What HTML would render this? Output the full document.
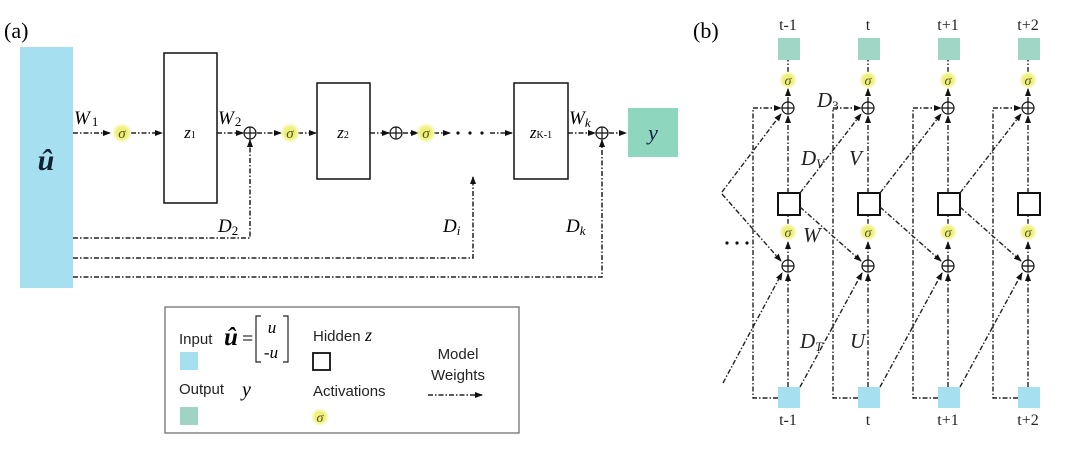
<!DOCTYPE html>
<html><head><meta charset="utf-8"><style>
html,body{margin:0;padding:0;background:#fff;}
svg{display:block;}
.s{font-family:"Liberation Serif",serif;}
.i{font-family:"Liberation Serif",serif;font-style:italic;}
.a{font-family:"Liberation Sans",sans-serif;}
</style></head><body>
<svg width="1080" height="450" viewBox="0 0 1080 450" xmlns="http://www.w3.org/2000/svg">
<defs>
<marker id="ar" markerWidth="8" markerHeight="8" refX="7" refY="4" orient="auto" markerUnits="userSpaceOnUse">
<path d="M0,1 L8,4 L0,7 Z" fill="#111"/></marker>
<radialGradient id="gl"><stop offset="0.6" stop-color="#eef07a"/><stop offset="1" stop-color="#f5f6b8" stop-opacity="0.4"/></radialGradient>
</defs>
<g fill="none" stroke="#222" stroke-width="1.5" stroke-dasharray="5 2 1.5 2">
<path d="M73,133 H110" marker-end="url(#ar)"/>
<path d="M131,133 H162" marker-end="url(#ar)"/>
<path d="M217,133 H243" marker-end="url(#ar)"/>
<path d="M257,133 H281" marker-end="url(#ar)"/>
<path d="M298,133 H316" marker-end="url(#ar)"/>
<path d="M370,133 H389" marker-end="url(#ar)"/>
<path d="M403,133 H418" marker-end="url(#ar)"/>
<path d="M434,133 H450" marker-end="url(#ar)"/>
<path d="M490,133 H512" marker-end="url(#ar)"/>
<path d="M568,133 H595" marker-end="url(#ar)"/>
<path d="M609,133 H626" marker-end="url(#ar)"/>
<path d="M73,238 H250 V140" marker-end="url(#ar)"/>
<path d="M73,258 H473 V177" marker-end="url(#ar)"/>
<path d="M73,277 H602 V140" marker-end="url(#ar)"/>
</g>
<g fill="#111"><circle cx="458" cy="133" r="1.6"/><circle cx="470" cy="133" r="1.6"/><circle cx="482" cy="133" r="1.6"/></g>
<rect x="20" y="47" width="53" height="241" fill="#a6dff0"/>
<text x="46" y="170" class="i" font-size="30" font-weight="bold" text-anchor="middle" fill="#123">û</text>
<rect x="164" y="53" width="53" height="150" fill="#fff" stroke="#111" stroke-width="1.5"/>
<rect x="317" y="83" width="53" height="96" fill="#fff" stroke="#111" stroke-width="1.5"/>
<rect x="514" y="83" width="54" height="96" fill="#fff" stroke="#111" stroke-width="1.5"/>
<rect x="628" y="108" width="50" height="49" fill="#8fd6bf"/>
<text x="653" y="140" class="i" font-size="22" text-anchor="middle" fill="#124">y</text>
<text x="190" y="138" class="i" font-size="17" text-anchor="middle">z<tspan font-size="10" font-style="normal">1</tspan></text>
<text x="343" y="138" class="i" font-size="17" text-anchor="middle">z<tspan font-size="10" font-style="normal">2</tspan></text>
<text x="541" y="138" class="i" font-size="17" text-anchor="middle">z<tspan font-size="10" font-style="normal">K-1</tspan></text>
<g class="i" font-size="19">
<text x="74" y="124">W<tspan font-size="13" font-style="normal" dx="2" dy="2">1</tspan></text>
<text x="218" y="124">W<tspan font-size="13" font-style="normal" dx="1" dy="2">2</tspan></text>
<text x="569" y="124">W<tspan font-size="13" dy="3">k</tspan></text>
<text x="218" y="232">D<tspan font-size="13" font-style="normal" dy="3">2</tspan></text>
<text x="443" y="232">D<tspan font-size="13" dy="3">i</tspan></text>
<text x="566" y="232">D<tspan font-size="13" dy="3">k</tspan></text>
</g>
<g fill="#fff" stroke="#111" stroke-width="1.2">
<circle cx="250" cy="133" r="6"/><path d="M244,133H256M250,127V139"/>
<circle cx="396" cy="133" r="6"/><path d="M390,133H402M396,127V139"/>
<circle cx="602" cy="133" r="6"/><path d="M596,133H608M602,127V139"/>
</g>
<g class="i" font-size="15" fill="#552" text-anchor="middle">
<circle cx="122" cy="133" r="9.5" fill="url(#gl)"/><text x="122" y="138">σ</text>
<circle cx="290" cy="133" r="9.5" fill="url(#gl)"/><text x="290" y="138">σ</text>
<circle cx="426" cy="133" r="9.5" fill="url(#gl)"/><text x="426" y="138">σ</text>
</g>
<text x="4" y="38" class="s" font-size="22">(a)</text>
<rect x="165" y="307" width="354" height="126" fill="#fff" stroke="#666" stroke-width="1.2"/>
<g class="a" font-size="15" fill="#222">
<text x="179" y="344">Input</text>
<text x="179" y="394">Output</text>
<text x="313" y="341">Hidden</text>
<text x="313" y="396">Activations</text>
<text x="458" y="359" text-anchor="middle">Model</text>
<text x="458" y="380" text-anchor="middle">Weights</text>
</g>
<text x="224" y="345" class="i" font-size="25" font-weight="bold">û</text>
<text x="242" y="345" class="s" font-size="20">=</text>
<path d="M261,316 H256 V362 H261 M283,316 H288 V362 H283" fill="none" stroke="#222" stroke-width="1.2"/>
<text x="272" y="333" class="i" font-size="17" text-anchor="middle">u</text>
<text x="271" y="358" class="i" font-size="17" text-anchor="middle">-u</text>
<text x="242" y="396" class="i" font-size="20">y</text>
<text x="365" y="341" class="i" font-size="18">z</text>
<rect x="180" y="352" width="18" height="18" fill="#a6dff0"/>
<rect x="180" y="407" width="18" height="18" fill="#9fd4c4"/>
<rect x="313" y="353" width="17" height="17" fill="#fff" stroke="#111" stroke-width="1.8"/>
<circle cx="320" cy="417" r="8.5" fill="url(#gl)"/><text x="320" y="422" class="i" font-size="14" text-anchor="middle" fill="#552">σ</text>
<path d="M428,395 H482" fill="none" stroke="#222" stroke-width="1.5" stroke-dasharray="5 2 1.5 2" marker-end="url(#ar)"/>
<text x="693" y="38" class="s" font-size="22">(b)</text>
<g class="s" font-size="16" text-anchor="middle" fill="#222">
<text x="788" y="30">t-1</text><text x="868" y="30">t</text><text x="948" y="30">t+1</text><text x="1028" y="30">t+2</text>
<text x="788" y="425">t-1</text><text x="868" y="425">t</text><text x="948" y="425">t+1</text><text x="1028" y="425">t+2</text>
</g>
<g fill="none" stroke="#222" stroke-width="1.4" stroke-dasharray="5 2 1.5 2">
<path d="M722,192 L781,114" marker-end="url(#ar)"/>
<path d="M722,194 L781,261" marker-end="url(#ar)"/>
<path d="M723,383 L782,273" marker-end="url(#ar)"/>
</g>
<g fill="#111"><circle cx="727" cy="243" r="1.6"/><circle cx="737" cy="243" r="1.6"/><circle cx="747" cy="243" r="1.6"/></g>
<g id="col">
<g fill="none" stroke="#222" stroke-width="1.4" stroke-dasharray="5 2 1.5 2">
<path d="M788,72 V60"/>
<path d="M788,102 V89" marker-end="url(#ar)"/>
<path d="M788,193 V116" marker-end="url(#ar)"/>
<path d="M788,224 V215"/>
<path d="M788,260 V242" marker-end="url(#ar)"/>
<path d="M788,387 V274" marker-end="url(#ar)"/>
<path d="M778,398 H753 V108 H781" marker-end="url(#ar)"/>
</g>
<rect x="778" y="38" width="22" height="22" fill="#9fd6c6"/>
<rect x="778" y="387" width="22" height="21" fill="#a6dff0"/>
<rect x="778" y="193" width="22" height="22" fill="#fff" stroke="#111" stroke-width="2"/>
<circle cx="788" cy="80" r="8.5" fill="url(#gl)"/><text x="788" y="85" class="i" font-size="14" text-anchor="middle" fill="#552">σ</text>
<circle cx="788" cy="232" r="8.5" fill="url(#gl)"/><text x="788" y="237" class="i" font-size="14" text-anchor="middle" fill="#552">σ</text>
<g fill="#fff" stroke="#111" stroke-width="1.2">
<circle cx="788" cy="108" r="6"/><path d="M782,108H794M788,102V114"/>
<circle cx="788" cy="266" r="6"/><path d="M782,266H794M788,260V272"/>
</g>
</g>
<use href="#col" x="80"/><use href="#col" x="160"/><use href="#col" x="240"/>
<g fill="none" stroke="#222" stroke-width="1.4" stroke-dasharray="5 2 1.5 2">
<path d="M800,193 L861,114" marker-end="url(#ar)"/>
<path d="M800,207 L861,261" marker-end="url(#ar)"/>
<path d="M800,387 L862,273" marker-end="url(#ar)"/>
<path d="M880,193 L941,114" marker-end="url(#ar)"/>
<path d="M880,207 L941,261" marker-end="url(#ar)"/>
<path d="M880,387 L942,273" marker-end="url(#ar)"/>
<path d="M960,193 L1021,114" marker-end="url(#ar)"/>
<path d="M960,207 L1021,261" marker-end="url(#ar)"/>
<path d="M960,387 L1022,273" marker-end="url(#ar)"/>
</g>
<g class="i" font-size="21" fill="#222">
<text x="817" y="107">D<tspan font-size="13" font-style="normal" dy="3">3</tspan></text>
<text x="801" y="165">D<tspan font-size="13" dy="3">V</tspan></text>
<text x="849" y="165">V</text>
<text x="803" y="242">W</text>
<text x="800" y="348">D<tspan font-size="13" dy="3">T</tspan></text>
<text x="850" y="348">U</text>
</g>
</svg>
</body></html>
